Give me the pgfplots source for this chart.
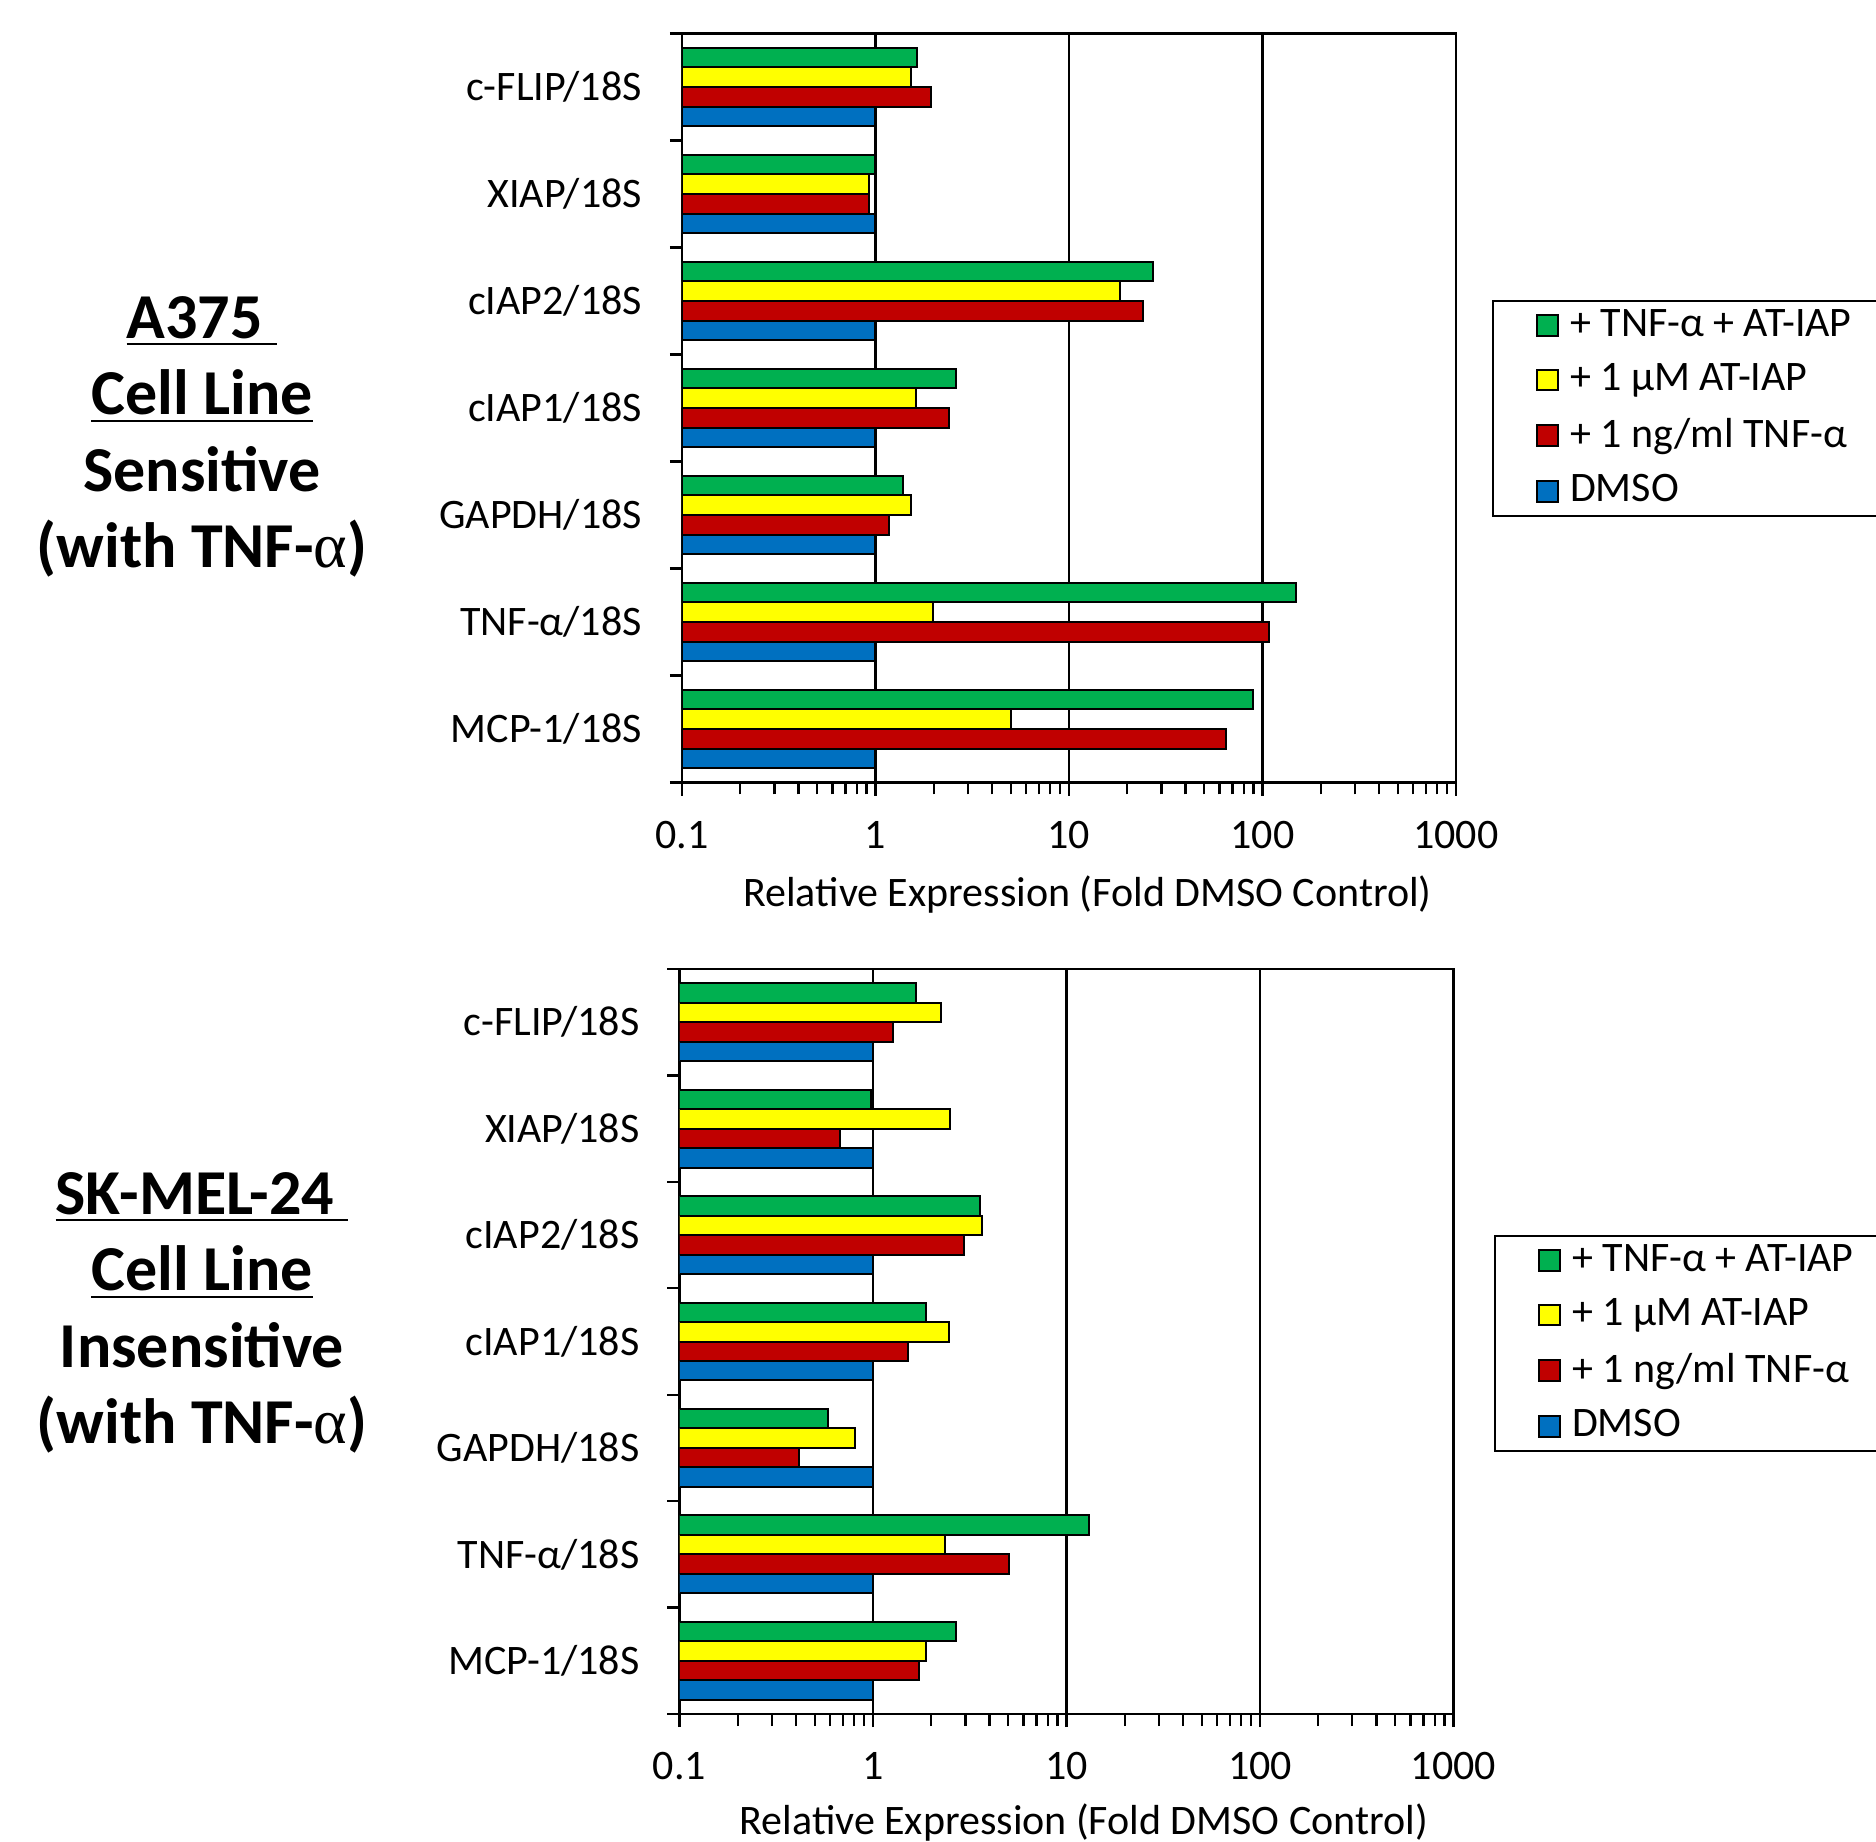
\documentclass[border=0pt]{standalone}
\usepackage{pgfplots}
\pgfplotsset{compat=1.18}
\usepackage{fontspec}
\setmainfont{Carlito}
\newfontfamily\grk{Liberation Serif}
\definecolor{cgreen}{RGB}{0,176,80}
\definecolor{cyellow}{RGB}{255,255,0}
\definecolor{cred}{RGB}{192,0,0}
\definecolor{cblue}{RGB}{0,112,192}
\begin{document}
\begin{tikzpicture}
\path[use as bounding box] (0,0) rectangle (469pt,-460.5pt);

\node[align=center, font=\fontsize{16}{19.15}\selectfont\bfseries, inner sep=0pt] at (50.5pt,-109.2pt)
  {\underline{A375\ }\\ \underline{Cell Line}\\ Sensitive\\ (with TNF-{\grk\mdseries α})};
\node[align=center, font=\fontsize{16}{19.15}\selectfont\bfseries, inner sep=0pt] at (50.5pt,-328.2pt)
  {\underline{SK-MEL-24\ }\\ \underline{Cell Line}\\ Insensitive\\ (with TNF-{\grk\mdseries α})};

\begin{axis}[at={(170.5pt,-8.375pt)}, anchor=north west,
    scale only axis, width=193.5pt, height=187.25pt,
    xmode=log, log origin=infty, xmin=0.1, xmax=1000, ymin=-0.5, ymax=6.5,
    xtick={0.1,1,10,100,1000}, xticklabels={0.1,1,10,100,1000},
    minor xtick={0.2,0.3,0.4,0.5,0.6,0.7,0.8,0.9,2,3,4,5,6,7,8,9,20,30,40,50,60,70,80,90,200,300,400,500,600,700,800,900},
    ytick={0,1,2,3,4,5,6},
    yticklabels={MCP-1/18S,TNF-α/18S,GAPDH/18S,cIAP1/18S,cIAP2/18S,XIAP/18S,c-FLIP/18S},
    minor ytick={-0.5,0.5,1.5,2.5,3.5,4.5,5.5,6.5},
    tick pos=left, tick align=outside,
    major tick length=3.3pt, minor tick length=3pt,
    tick style={black, line width=0.6pt},
    major y tick style={draw=none},
    axis line style={line width=0.6pt},
    xmajorgrids, major x grid style={black, line width=0.6pt},
    xbar, bar width=0.183,
    ticklabel style={font=\fontsize{10.5}{12}\selectfont},
    xticklabel shift=2.8pt, yticklabel shift=3.2pt,
    xlabel={Relative Expression (Fold DMSO Control)},
    xlabel style={at={(axis description cs:0.524,0)}, anchor=center, yshift=-27.9pt, inner sep=0pt, font=\fontsize{10.5}{12}\selectfont},
    legend cell align=left,
    legend style={at={(1.0465,0.6442)}, anchor=north west, draw=black, line width=0.6pt,
      font=\fontsize{10.5}{12}\selectfont, inner xsep=10.75pt, inner ysep=0pt,
      row sep=1.35pt, column sep=0.8pt},
  ]
\addplot[fill=cgreen, draw=black, line width=0.5pt, bar shift=0.2745,
  legend image code/.code={\draw[fill=cgreen,draw=black,line width=0.5pt] (0pt,-2.6pt) rectangle (5.2pt,2.6pt);}]
  coordinates {(1.63,6) (1.0,5) (27.3,4) (2.62,3) (1.38,2) (149,1) (89,0)};
\addplot[fill=cyellow, draw=black, line width=0.5pt, bar shift=0.0915,
  legend image code/.code={\draw[fill=cyellow,draw=black,line width=0.5pt] (0pt,-2.6pt) rectangle (5.2pt,2.6pt);}]
  coordinates {(1.52,6) (0.93,5) (18.4,4) (1.62,3) (1.53,2) (1.98,1) (5.03,0)};
\addplot[fill=cred, draw=black, line width=0.5pt, bar shift=-0.0915,
  legend image code/.code={\draw[fill=cred,draw=black,line width=0.5pt] (0pt,-2.6pt) rectangle (5.2pt,2.6pt);}]
  coordinates {(1.94,6) (0.93,5) (24.2,4) (2.39,3) (1.17,2) (108,1) (64.7,0)};
\addplot[fill=cblue, draw=black, line width=0.5pt, bar shift=-0.2745,
  legend image code/.code={\draw[fill=cblue,draw=black,line width=0.5pt] (0pt,-2.6pt) rectangle (5.2pt,2.6pt);}]
  coordinates {(1,6) (1,5) (1,4) (1,3) (1,2) (1,1) (1,0)};
\legend{+ TNF-α + AT-IAP, + 1 µM AT-IAP, + 1 ng/ml TNF-α, DMSO}
\end{axis}

\begin{axis}[at={(169.875pt,-242.25pt)}, anchor=north west,
    scale only axis, width=193.5pt, height=186.25pt,
    xmode=log, log origin=infty, xmin=0.1, xmax=1000, ymin=-0.5, ymax=6.5,
    xtick={0.1,1,10,100,1000}, xticklabels={0.1,1,10,100,1000},
    minor xtick={0.2,0.3,0.4,0.5,0.6,0.7,0.8,0.9,2,3,4,5,6,7,8,9,20,30,40,50,60,70,80,90,200,300,400,500,600,700,800,900},
    ytick={0,1,2,3,4,5,6},
    yticklabels={MCP-1/18S,TNF-α/18S,GAPDH/18S,cIAP1/18S,cIAP2/18S,XIAP/18S,c-FLIP/18S},
    minor ytick={-0.5,0.5,1.5,2.5,3.5,4.5,5.5,6.5},
    tick pos=left, tick align=outside,
    major tick length=3.3pt, minor tick length=3pt,
    tick style={black, line width=0.6pt},
    major y tick style={draw=none},
    axis line style={line width=0.6pt},
    xmajorgrids, major x grid style={black, line width=0.6pt},
    xbar, bar width=0.183,
    ticklabel style={font=\fontsize{10.5}{12}\selectfont},
    xticklabel shift=2.8pt, yticklabel shift=3.2pt,
    xlabel={Relative Expression (Fold DMSO Control)},
    xlabel style={at={(axis description cs:0.5226,0)}, anchor=center, yshift=-27.2pt, inner sep=0pt, font=\fontsize{10.5}{12}\selectfont},
    legend cell align=left,
    legend style={at={(1.0523,0.643)}, anchor=north west, draw=black, line width=0.6pt,
      font=\fontsize{10.5}{12}\selectfont, inner xsep=10.75pt, inner ysep=0pt,
      row sep=1.35pt, column sep=0.8pt},
  ]
\addplot[fill=cgreen, draw=black, line width=0.5pt, bar shift=0.2745,
  legend image code/.code={\draw[fill=cgreen,draw=black,line width=0.5pt] (0pt,-2.6pt) rectangle (5.2pt,2.6pt);}]
  coordinates {(1.67,6) (0.975,5) (3.58,4) (1.89,3) (0.582,2) (13.1,1) (2.67,0)};
\addplot[fill=cyellow, draw=black, line width=0.5pt, bar shift=0.0915,
  legend image code/.code={\draw[fill=cyellow,draw=black,line width=0.5pt] (0pt,-2.6pt) rectangle (5.2pt,2.6pt);}]
  coordinates {(2.25,6) (2.51,5) (3.65,4) (2.46,3) (0.804,2) (2.35,1) (1.89,0)};
\addplot[fill=cred, draw=black, line width=0.5pt, bar shift=-0.0915,
  legend image code/.code={\draw[fill=cred,draw=black,line width=0.5pt] (0pt,-2.6pt) rectangle (5.2pt,2.6pt);}]
  coordinates {(1.27,6) (0.676,5) (2.95,4) (1.52,3) (0.413,2) (5.04,1) (1.72,0)};
\addplot[fill=cblue, draw=black, line width=0.5pt, bar shift=-0.2745,
  legend image code/.code={\draw[fill=cblue,draw=black,line width=0.5pt] (0pt,-2.6pt) rectangle (5.2pt,2.6pt);}]
  coordinates {(1,6) (1,5) (1,4) (1,3) (1,2) (1,1) (1,0)};
\legend{+ TNF-α + AT-IAP, + 1 µM AT-IAP, + 1 ng/ml TNF-α, DMSO}
\end{axis}
\end{tikzpicture}
\end{document}
